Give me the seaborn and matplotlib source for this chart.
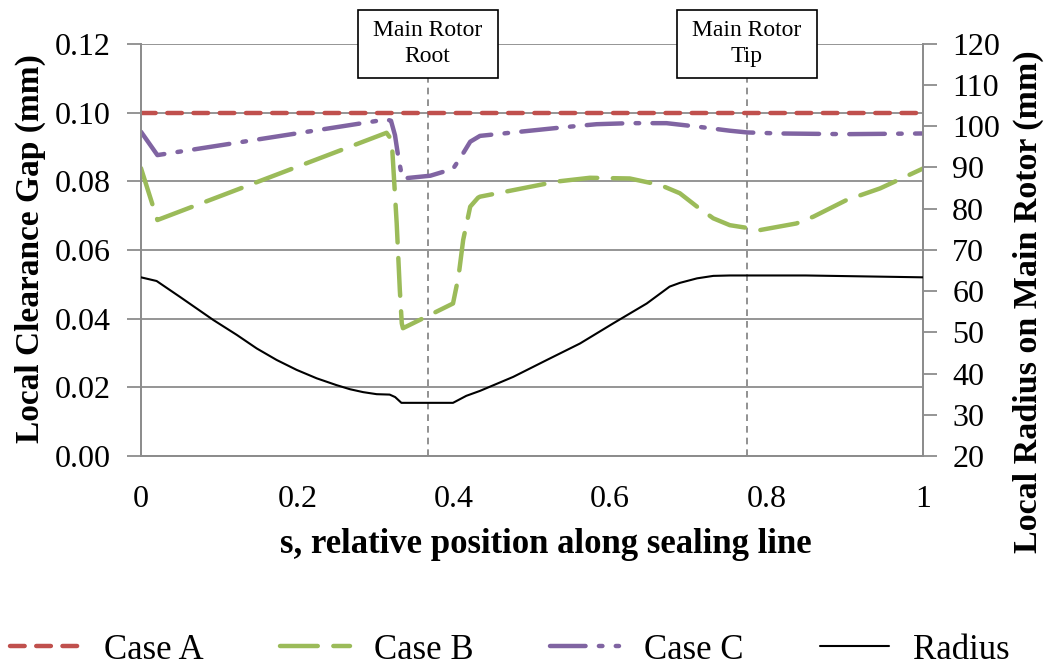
import matplotlib
matplotlib.use("Agg")
import matplotlib.pyplot as plt
import matplotlib.transforms as mtransforms
from matplotlib.patches import Rectangle
import seaborn as sns
import pandas as pd

# ---------------- data ----------------
s_a = [0.0, 1.0]
gap_a = [0.100, 0.100]

s_b = [0.0, 0.021, 0.314, 0.3206, 0.327, 0.331, 0.3335, 0.335, 0.399, 0.406, 0.412, 0.421,
       0.431, 0.4335, 0.476, 0.5316, 0.574, 0.625, 0.664, 0.689, 0.711, 0.7318, 0.753, 0.792,
       0.838, 0.860, 0.902, 0.945, 1.0]
gap_b = [0.0838, 0.0687, 0.0941, 0.0920, 0.0677, 0.0483, 0.0386, 0.0372, 0.0444, 0.0522, 0.0629, 0.0726,
         0.0752, 0.0755, 0.0774, 0.0799, 0.0810, 0.0808, 0.0789, 0.0765, 0.0726, 0.0692, 0.0672, 0.0658,
         0.0677, 0.0697, 0.0745, 0.0779, 0.0837]

s_c = [0.0, 0.021, 0.314, 0.3197, 0.3248, 0.329, 0.3334, 0.335, 0.37, 0.399, 0.410, 0.421, 0.4335,
       0.476, 0.540, 0.5827, 0.625, 0.672, 0.711, 0.753, 0.775, 0.817, 0.902, 1.0]
gap_c = [0.0944, 0.0876, 0.0980, 0.0976, 0.0934, 0.0871, 0.0818, 0.0808, 0.0816, 0.0836, 0.0874, 0.0915, 0.0932,
         0.0942, 0.0957, 0.0966, 0.0969, 0.0969, 0.0959, 0.0947, 0.0942, 0.0939, 0.0937, 0.0939]

s_r = [0.0, 0.020, 0.0499, 0.0925, 0.1224, 0.148, 0.1735, 0.199, 0.2247, 0.250, 0.2673, 0.284, 0.3014,
       0.318, 0.325, 0.333, 0.399, 0.416, 0.4335, 0.476, 0.519, 0.5614, 0.604, 0.6467, 0.676, 0.689,
       0.711, 0.7318, 0.753, 0.85, 1.0]
radius = [63.35, 62.46, 58.6, 53.0, 49.4, 46.1, 43.3, 40.9, 38.85, 37.2, 36.2, 35.5, 35.0,
          34.9, 34.3, 32.9, 32.9, 34.6, 35.8, 39.2, 43.3, 47.3, 52.2, 57.0, 61.1, 62.0,
          63.1, 63.7, 63.8, 63.8, 63.35]

markers_s = [0.3666, 0.7745]
marker_labels = ["Main Rotor\nRoot", "Main Rotor\nTip"]

left_ticks = [0.00, 0.02, 0.04, 0.06, 0.08, 0.10, 0.12]
right_ticks = [20, 30, 40, 50, 60, 70, 80, 90, 100, 110, 120]
x_ticks = [0, 0.2, 0.4, 0.6, 0.8, 1.0]
x_ticklabels = ["0", "0.2", "0.4", "0.6", "0.8", "1"]

# ---------------- style ----------------
sns.set_theme(style="white")
plt.rcParams["font.family"] = ["Liberation Serif", "DejaVu Serif"]
plt.rcParams["text.color"] = "black"
plt.rcParams["axes.labelcolor"] = "black"
plt.rcParams["xtick.color"] = "black"
plt.rcParams["ytick.color"] = "black"

grid_col = "#8c8c8c"
c_a = "#C0504D"
c_b = "#9BBB59"
c_c = "#8064A2"

fig = plt.figure(figsize=(10.52, 6.66), dpi=100)
ax = fig.add_axes([0.134, 0.3153, 0.7434, 0.6189])
ax2 = ax.twinx()

df_a = pd.DataFrame({"s": s_a, "gap": gap_a})
df_b = pd.DataFrame({"s": s_b, "gap": gap_b})
df_c = pd.DataFrame({"s": s_c, "gap": gap_c})
df_r = pd.DataFrame({"s": s_r, "radius": radius})

lw = 3.2
sns.lineplot(data=df_a, x="s", y="gap", ax=ax, color=c_a, lw=lw, label="Case A",
             estimator=None, sort=False, zorder=3)
sns.lineplot(data=df_b, x="s", y="gap", ax=ax, color=c_b, lw=lw, label="Case B",
             estimator=None, sort=False, zorder=3)
sns.lineplot(data=df_c, x="s", y="gap", ax=ax, color=c_c, lw=lw, label="Case C",
             estimator=None, sort=False, zorder=3)
sns.lineplot(data=df_r, x="s", y="radius", ax=ax2, color="black", lw=1.5, label="Radius",
             estimator=None, sort=False, zorder=3)

lines = ax.get_lines()
lines[0].set_dashes((3.3, 2.6))
lines[1].set_dashes((8.5, 3.5))
lines[2].set_dashes((8, 3, 0.8, 3))
for l in lines:
    l.set_dash_capstyle("round")

# axes
ax.set_xlim(0, 1)
ax.set_ylim(0, 0.12)
ax2.set_ylim(20, 120)
ax.set_yticks(left_ticks)
ax.set_yticklabels([f"{t:.2f}" for t in left_ticks])
ax2.set_yticks(right_ticks)
ax.set_xticks(x_ticks)
ax.set_xticklabels(x_ticklabels)

ax.yaxis.grid(True, color=grid_col, lw=1.3)
ax.xaxis.grid(False)
ax.set_axisbelow(True)

for a in (ax, ax2):
    for sp in a.spines.values():
        sp.set_color(grid_col)
        sp.set_linewidth(1.3)
ax.spines["top"].set_visible(False)
ax2.spines["top"].set_visible(False)

ax.tick_params(axis="y", which="major", labelsize=23, labelcolor="black",
               length=10, width=1.3, direction="out", pad=12, color=grid_col)
ax.tick_params(axis="x", which="major", labelsize=23, labelcolor="black",
               length=8, width=1.3, direction="out", pad=13, color=grid_col)
ax2.tick_params(axis="y", labelsize=23, length=10, width=1.3, direction="out",
                color=grid_col, labelcolor="black", pad=11)

ax.set_xlabel("s, relative position along sealing line", fontsize=25, fontweight="bold")
ax.set_ylabel("Local Clearance Gap (mm)", fontsize=24, fontweight="bold")
ax2.set_ylabel("Local Radius on Main Rotor (mm)", fontsize=24.5, fontweight="bold")
ax.xaxis.set_label_coords(0.518, -0.175)
ax.yaxis.set_label_coords(-0.121, 0.503)
ax2.yaxis.set_label_coords(1.115, 0.374)

# marker lines and boxes
box_tr = mtransforms.blended_transform_factory(ax.transData, ax.transAxes)
box_w = 0.179
box_h = 0.165
for xs, lab in zip(markers_s, marker_labels):
    ax.axvline(xs, color="#7f7f7f", lw=1.2, ls=(0, (4, 3)), zorder=2)
    ax.add_patch(Rectangle((xs - box_w / 2, 1.0 - box_h / 2), box_w, box_h,
                           transform=box_tr, fc="white", ec="black", lw=1.2,
                           zorder=9, clip_on=False))
    ax.text(xs, 1.0, lab, transform=box_tr, ha="center", va="center", fontsize=17,
            linespacing=1.3, zorder=10, clip_on=False)

# legend
if ax.get_legend():
    ax.get_legend().remove()
if ax2.get_legend():
    ax2.get_legend().remove()
handles = list(ax.get_lines()[:3]) + [ax2.get_lines()[0]]
labels = ["Case A", "Case B", "Case C", "Radius"]
fig.legend(handles, labels, loc="center", bbox_to_anchor=(0.485, 0.024), ncol=4,
           frameon=False, fontsize=25, handlelength=2.0, handletextpad=0.7,
           columnspacing=2.2, borderpad=0.0)

fig.savefig("out.png", dpi=100)
